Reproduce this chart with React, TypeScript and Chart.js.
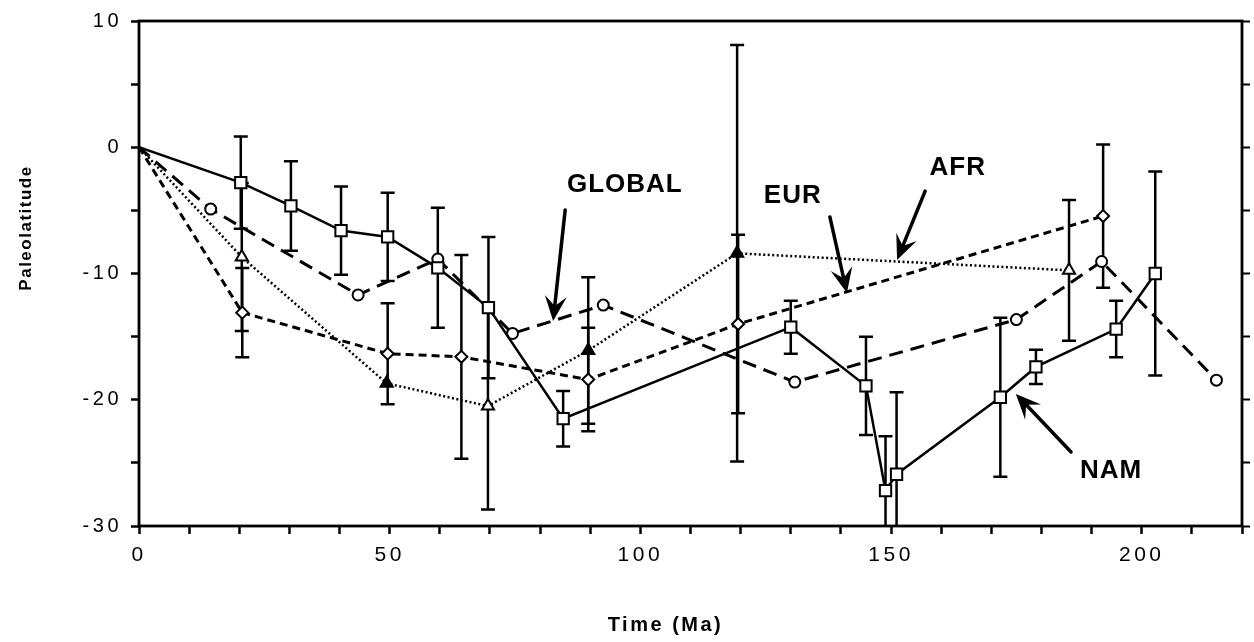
import React, { useEffect, useRef } from 'react';
import { Chart, registerables } from 'chart.js';

Chart.register(...registerables);

// ---------------- data (age in Ma, paleolatitude in degrees) ----------------
const namAge = [0, 20.3, 30.3, 40.3, 49.6, 59.6, 69.7, 84.6, 130.0, 145.0, 148.9, 151.1, 171.8, 178.9, 194.9, 202.7];
const namLat = [0, -2.8, -4.65, -6.6, -7.1, -9.55, -12.7, -21.5, -14.25, -18.9, -27.2, -25.9, -19.8, -17.4, -14.4, -10.0];
const namErr = [null, 3.65, 3.55, 3.5, 3.5, 4.75, 5.6, 2.2, 2.1, 3.9, 4.3, 6.5, 6.3, 1.36, 2.24, 8.07];

const globalAge = [0, 14.3, 43.7, 59.6, 74.5, 92.6, 130.8, 175.0, 192.0, 214.9];
const globalLat = [0, -4.9, -11.7, -8.85, -14.75, -12.5, -18.6, -13.65, -9.05, -18.45];

const eurAge = [0, 20.6, 49.6, 64.3, 89.6, 119.5, 192.3];
const eurLat = [0, -13.1, -16.35, -16.6, -18.4, -14.0, -5.45];
const eurErr = [null, 3.53, 4.0, 8.07, 4.1, 7.06, 5.67];

const afrAge = [0, 20.5, 49.4, 69.6, 89.6, 119.3, 185.5];
const afrLat = [0, -8.7, -18.7, -20.5, -16.1, -8.4, -9.75];
const afrErr = [null, 5.86, null, 8.2, 5.8, 16.5, 5.57];
const afrFilled = [false, false, true, false, true, true, false];

const xMajorTicks = [0, 50, 100, 150, 200];
const yMajorTicks = [10, 0, -10, -20, -30];

const labelNames = ['GLOBAL', 'EUR', 'AFR', 'NAM'];
const labelAge = [96.9, 130.4, 163.3, 193.9];
const labelLat = [-2.83, -3.7, -1.49, -25.49];
const arrowTailAge = [85.0, 137.8, 156.8, 185.9];
const arrowTailLat = [-4.97, -5.52, -3.47, -24.14];
const arrowTipAge = [82.6, 141.2, 151.2, 174.9];
const arrowTipLat = [-13.76, -11.54, -8.93, -19.54];

const xTitle = 'Time (Ma)';
const yTitle = 'Paleolatitude';

const FONT = '"Liberation Sans", Arial, Helvetica, sans-serif';

const toPoints = (xs: number[], ys: number[]) => xs.map((x, i) => ({ x, y: ys[i] }));

const errorBarPlugin = {
  id: 'errorBars',
  beforeDatasetsDraw(chart: any) {
    const ctx = chart.ctx;
    const xs = chart.scales.x;
    const ys = chart.scales.y;
    const a = chart.chartArea;
    ctx.save();
    ctx.beginPath();
    ctx.rect(a.left, a.top, a.right - a.left, a.bottom - a.top);
    ctx.clip();
    ctx.strokeStyle = '#000';
    ctx.lineWidth = 2.5;
    ctx.setLineDash([]);
    chart.data.datasets.forEach((ds: any) => {
      const errs = ds.errorBars;
      if (!errs) return;
      ds.data.forEach((p: any, i: number) => {
        const e = errs[i];
        if (e == null) return;
        const px = xs.getPixelForValue(p.x);
        const yt = ys.getPixelForValue(p.y + e);
        const yb = ys.getPixelForValue(p.y - e);
        ctx.beginPath();
        ctx.moveTo(px, yt);
        ctx.lineTo(px, yb);
        ctx.moveTo(px - 7, yt);
        ctx.lineTo(px + 7, yt);
        ctx.moveTo(px - 7, yb);
        ctx.lineTo(px + 7, yb);
        ctx.stroke();
      });
    });
    ctx.restore();
  },
};

function drawArrow(ctx: CanvasRenderingContext2D, x1: number, y1: number, x2: number, y2: number) {
  const ang = Math.atan2(y2 - y1, x2 - x1);
  const c = Math.cos(ang);
  const s = Math.sin(ang);
  const L = 25;
  const W = 11;
  const N = 15;
  const bx = x2 - c * N;
  const by = y2 - s * N;
  ctx.lineWidth = 3.5;
  ctx.lineCap = 'round';
  ctx.beginPath();
  ctx.moveTo(x1, y1);
  ctx.lineTo(bx, by);
  ctx.stroke();
  const hx = x2 - c * L;
  const hy = y2 - s * L;
  const px = -s;
  const py = c;
  ctx.beginPath();
  ctx.moveTo(x2, y2);
  ctx.lineTo(hx + px * W, hy + py * W);
  ctx.lineTo(bx, by);
  ctx.lineTo(hx - px * W, hy - py * W);
  ctx.closePath();
  ctx.fill();
}

const decorPlugin = {
  id: 'decor',
  beforeDraw(chart: any) {
    const ctx = chart.ctx;
    ctx.save();
    ctx.fillStyle = '#fff';
    ctx.fillRect(0, 0, chart.width, chart.height);
    ctx.restore();
    (ctx as any).letterSpacing = '3.5px';
  },
  afterDatasetsDraw(chart: any) {
    const ctx = chart.ctx;
    const a = chart.chartArea;
    ctx.save();
    ctx.setLineDash([]);
    ctx.strokeStyle = '#000';
    ctx.lineWidth = 2.8;
    ctx.strokeRect(a.left, a.top, a.right - a.left, a.bottom - a.top);
    ctx.restore();
  },
  afterDraw(chart: any) {
    const ctx = chart.ctx;
    const xs = chart.scales.x;
    const ys = chart.scales.y;
    const a = chart.chartArea;
    ctx.save();
    ctx.fillStyle = '#000';
    ctx.strokeStyle = '#000';
    ctx.setLineDash([]);

    // annotation labels
    ctx.font = `bold 26px ${FONT}`;
    (ctx as any).letterSpacing = '1px';
    ctx.textAlign = 'center';
    ctx.textBaseline = 'alphabetic';
    labelNames.forEach((t, i) => {
      ctx.fillText(t, xs.getPixelForValue(labelAge[i]), ys.getPixelForValue(labelLat[i]) + 9.3);
    });

    // arrows
    labelNames.forEach((_, i) => {
      drawArrow(
        ctx,
        xs.getPixelForValue(arrowTailAge[i]),
        ys.getPixelForValue(arrowTailLat[i]),
        xs.getPixelForValue(arrowTipAge[i]),
        ys.getPixelForValue(arrowTipLat[i])
      );
    });

    // axis titles
    ctx.font = `bold 20px ${FONT}`;
    (ctx as any).letterSpacing = '2.5px';
    ctx.textAlign = 'center';
    ctx.fillText(xTitle, (a.left + a.right) / 2 - 25, 631);

    ctx.save();
    ctx.translate(31, 228);
    ctx.rotate(-Math.PI / 2);
    ctx.font = `bold 17px ${FONT}`;
    (ctx as any).letterSpacing = '1.5px';
    ctx.fillText(yTitle, 0, 0);
    ctx.restore();

    ctx.restore();
  },
};

export default function App() {
  const ref = useRef<HTMLCanvasElement>(null);

  useEffect(() => {
    const canvas = ref.current;
    if (!canvas) return;

    const markerBase = {
      borderColor: '#000',
      pointBorderColor: '#000',
      pointBorderWidth: 2,
      tension: 0,
      fill: false,
      showLine: true,
    };

    const chart = new Chart(canvas, {
      type: 'scatter',
      data: {
        datasets: [
          {
            ...markerBase,
            label: 'NAM',
            data: toPoints(namAge, namLat),
            errorBars: namErr,
            borderWidth: 2.5,
            pointStyle: 'rect',
            pointRadius: namAge.map((_, i) => (i === 0 ? 0 : 8)),
            pointBackgroundColor: '#fff',
          } as any,
          {
            ...markerBase,
            label: 'GLOBAL',
            data: toPoints(globalAge, globalLat),
            borderWidth: 3,
            borderDash: [14, 8],
            pointStyle: 'circle',
            pointRadius: globalAge.map((_, i) => (i === 0 ? 0 : 5.5)),
            pointBackgroundColor: '#fff',
          } as any,
          {
            ...markerBase,
            label: 'EUR',
            data: toPoints(eurAge, eurLat),
            errorBars: eurErr,
            borderWidth: 3,
            borderDash: [8, 5],
            pointStyle: 'rectRot',
            pointRadius: eurAge.map((_, i) => (i === 0 ? 0 : 6)),
            pointBackgroundColor: '#fff',
          } as any,
          {
            ...markerBase,
            label: 'AFR',
            data: toPoints(afrAge, afrLat),
            errorBars: afrErr,
            borderWidth: 2.5,
            borderDash: [2, 2.5],
            pointStyle: 'triangle',
            pointRadius: afrAge.map((_, i) => (i === 0 ? 0 : 7)),
            pointBackgroundColor: afrFilled.map((f) => (f ? '#000' : '#fff')),
          } as any,
        ],
      },
      options: {
        responsive: false,
        devicePixelRatio: 1,
        animation: false,
        events: [],
        layout: { padding: { top: 21, left: 0, right: 0, bottom: 0 } },
        plugins: {
          legend: { display: false },
          tooltip: { enabled: false },
        },
        scales: {
          x: {
            type: 'linear',
            position: 'bottom',
            min: 0,
            max: 220,
            border: { display: false },
            grid: {
              display: true,
              drawOnChartArea: false,
              drawTicks: true,
              tickLength: 8,
              tickWidth: 2.5,
              tickColor: '#000',
            },
            ticks: {
              stepSize: 10,
              autoSkip: false,
              maxRotation: 0,
              padding: 9,
              color: '#000',
              font: { family: FONT, size: 21 },
              callback: (v: any) => (xMajorTicks.includes(Number(v)) ? String(v) : ''),
            },
            afterFit: (s: any) => {
              s.height = 116;
            },
          },
          y: {
            type: 'linear',
            position: 'left',
            min: -30,
            max: 10,
            border: { display: false },
            grid: {
              display: true,
              drawOnChartArea: false,
              drawTicks: true,
              tickLength: 8,
              tickWidth: 2.5,
              tickColor: '#000',
            },
            ticks: {
              stepSize: 5,
              autoSkip: false,
              padding: 9,
              color: '#000',
              font: { family: FONT, size: 20 },
              callback: (v: any) => (yMajorTicks.includes(Number(v)) ? String(v) : ''),
            },
            afterFit: (s: any) => {
              s.width = 139;
            },
          },
          y2: {
            type: 'linear',
            position: 'right',
            display: true,
            min: -30,
            max: 10,
            border: { display: false },
            grid: {
              display: true,
              drawOnChartArea: false,
              drawTicks: true,
              tickLength: 8,
              tickWidth: 2,
              tickColor: '#000',
            },
            ticks: {
              stepSize: 5,
              autoSkip: false,
              padding: 0,
              callback: () => '',
            },
            afterFit: (s: any) => {
              s.width = 12;
            },
          },
        },
      } as any,
      plugins: [errorBarPlugin, decorPlugin],
    });

    return () => {
      chart.destroy();
    };
  }, []);

  return (
    <div style={{ position: 'absolute', left: 0, top: 0, width: 1254, height: 642, background: '#fff' }}>
      <canvas ref={ref} width={1254} height={642} style={{ display: 'block', width: 1254, height: 642 }} />
    </div>
  );
}
